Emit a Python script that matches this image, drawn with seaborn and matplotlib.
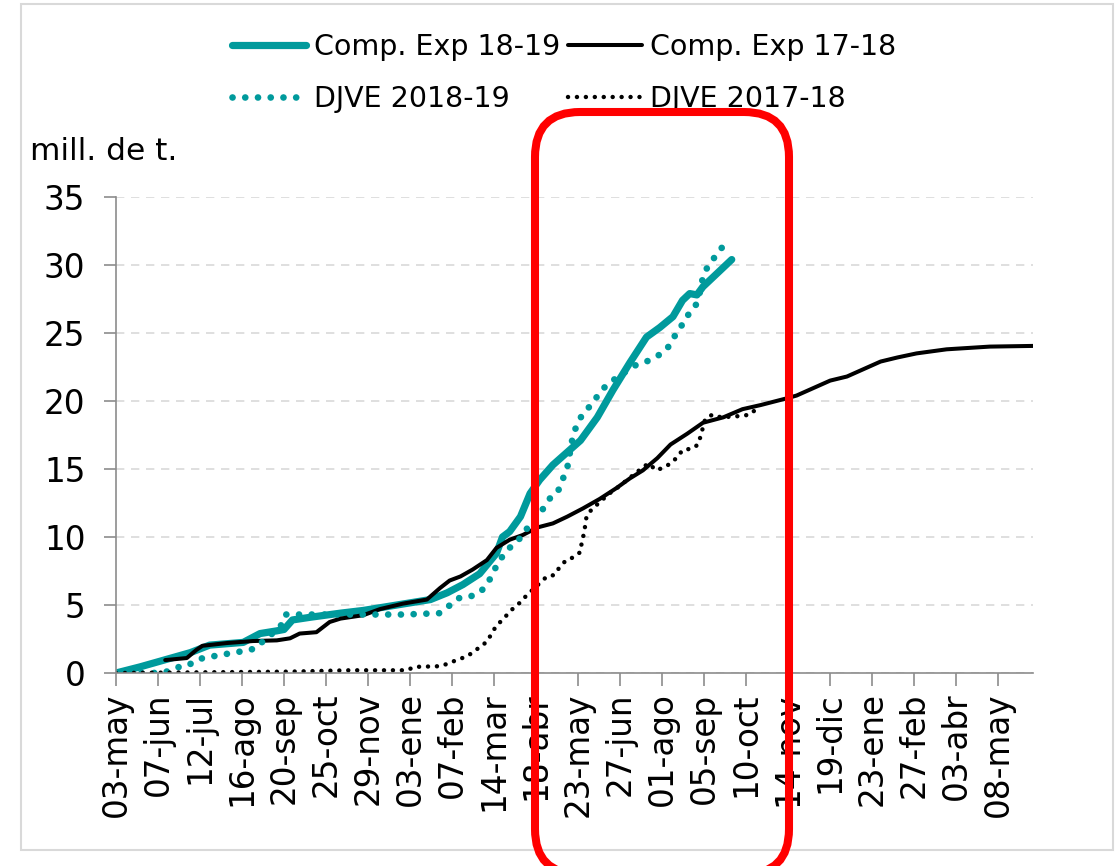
import numpy as np
import pandas as pd
import matplotlib
matplotlib.use("Agg")
import matplotlib.pyplot as plt
import seaborn as sns
from matplotlib.patches import FancyBboxPatch, Rectangle

# x = days counted from 03-may (start of the axis), y = million tonnes
comp_1819_day = [0, 20, 42, 62, 78, 106, 120, 134, 140, 147, 162, 187, 206, 234, 262, 276,
                 289, 303, 317, 322, 328, 337, 345, 353, 364, 387, 401, 414, 428, 442, 453,
                 464, 472, 478, 484, 489, 501, 513]
comp_1819_val = [0.0, 0.45, 1.0, 1.5, 2.05, 2.25, 2.9, 3.1, 3.2, 3.9, 4.1, 4.4, 4.6, 5.0, 5.4, 5.9,
                 6.5, 7.3, 8.8, 10.0, 10.4, 11.5, 13.2, 14.2, 15.3, 17.1, 18.8, 20.8, 22.8, 24.7, 25.4,
                 26.2, 27.4, 27.9, 27.8, 28.4, 29.4, 30.4]

comp_1718_day = [41, 59, 67, 72, 92, 114, 134, 145, 153, 167, 178, 187, 206, 220, 239, 259, 270,
                 278, 287, 297, 309, 317, 328, 339, 351, 364, 376, 389, 403, 417, 428, 439, 451,
                 462, 476, 489, 506, 522, 537, 559, 567, 595, 609, 637, 651, 667, 692, 728, 764]
comp_1718_val = [0.95, 1.1, 1.7, 2.0, 2.2, 2.35, 2.4, 2.55, 2.9, 3.0, 3.75, 4.0, 4.25, 4.7, 5.1, 5.4, 6.25,
                 6.8, 7.1, 7.6, 8.3, 9.2, 9.8, 10.15, 10.7, 11.0, 11.5, 12.1, 12.8, 13.6, 14.3, 14.9, 15.8,
                 16.8, 17.6, 18.4, 18.8, 19.4, 19.7, 20.2, 20.4, 21.5, 21.8, 22.9, 23.2, 23.5, 23.8, 24.0, 24.05]

djve_1819_day = [0, 31, 41, 49, 59, 68, 78, 87, 97, 106, 116, 122, 137, 141, 151, 200, 240, 270,
                 277, 285, 293, 303, 309, 314, 318, 324, 331, 338, 343, 351, 356, 362, 368, 372,
                 376, 381, 385, 389, 397, 402, 409, 417, 432, 442, 451, 459, 464, 470, 474, 481,
                 485, 489, 493, 499, 505]
djve_1819_val = [0.0, 0.0, 0.05, 0.4, 0.5, 1.0, 1.2, 1.3, 1.5, 1.6, 1.8, 2.3, 3.4, 4.3, 4.3, 4.3, 4.3, 4.4,
                 4.9, 5.5, 5.55, 5.9, 6.5, 7.3, 8.1, 8.8, 9.5, 10.0, 10.7, 11.4, 12.1, 12.9, 13.3, 14.2,
                 15.1, 17.6, 18.4, 19.1, 19.8, 20.5, 21.2, 21.7, 22.6, 22.9, 23.3, 23.8, 24.6, 25.3, 26.1, 26.7,
                 27.4, 29.1, 29.9, 30.6, 31.3]

djve_1718_day = [0, 145, 195, 242, 249, 270, 277, 285, 292, 297, 303, 309, 313, 317, 322, 327, 332,
                 337, 342, 353, 359, 365, 369, 375, 381, 387, 388, 390, 391, 392, 396, 411, 416,
                 433, 440, 444, 450, 456, 462, 468, 472, 480, 485, 487, 491, 497, 504, 521, 528, 532]
djve_1718_val = [0.0, 0.1, 0.2, 0.2, 0.45, 0.5, 0.7, 1.0, 1.2, 1.5, 1.9, 2.3, 2.9, 3.5, 3.9, 4.4, 4.85,
                 5.2, 5.7, 6.6, 7.1, 7.2, 7.7, 8.3, 8.5, 8.9, 9.6, 10.3, 10.9, 11.5, 12.0, 13.2, 13.5,
                 14.7, 15.2, 15.4, 14.9, 15.1, 15.4, 15.9, 16.4, 16.5, 16.8, 17.4, 18.7, 19.0, 18.8, 18.9, 19.0, 19.3]

tick_labels = ["03-may", "07-jun", "12-jul", "16-ago", "20-sep", "25-oct", "29-nov", "03-ene",
               "07-feb", "14-mar", "18-abr", "23-may", "27-jun", "01-ago", "05-sep", "10-oct",
               "14-nov", "19-dic", "23-ene", "27-feb", "03-abr", "08-may"]
tick_step = 35
x_end = 764

TEAL = "#009a9c"

sns.set_theme(style="white")
plt.rcParams["font.family"] = ["DejaVu Sans"]
plt.rcParams["text.color"] = "black"
plt.rcParams["xtick.labelcolor"] = "black"
plt.rcParams["ytick.labelcolor"] = "black"

fig = plt.figure(figsize=(11.17, 8.66), dpi=100)
ax = fig.add_axes([116 / 1117, 1 - 673 / 866, (1033 - 116) / 1117, (673 - 197) / 866])

sns.lineplot(x=comp_1819_day, y=comp_1819_val, ax=ax, color=TEAL, lw=5.2,
             estimator=None, sort=False, label="Comp. Exp 18-19", solid_capstyle="round")
sns.lineplot(x=comp_1718_day, y=comp_1718_val, ax=ax, color="black", lw=2.9,
             estimator=None, sort=False, label="Comp. Exp 17-18", solid_capstyle="round")
sns.lineplot(x=djve_1819_day, y=djve_1819_val, ax=ax, color=TEAL, lw=4.8,
             linestyle=(0, (0.01, 1.9)), dash_capstyle="round",
             estimator=None, sort=False, label="DJVE 2018-19")
sns.lineplot(x=djve_1718_day, y=djve_1718_val, ax=ax, color="black", lw=3.2,
             linestyle=(0, (0.01, 2.0)), dash_capstyle="round",
             estimator=None, sort=False, label="DJVE 2017-18")

ax.set_xlim(0, x_end)
ax.set_ylim(0, 35)
ax.set_xticks(np.arange(len(tick_labels)) * tick_step)
ax.set_xticklabels(tick_labels, rotation=90, fontsize=23.5, color="black")
ax.set_yticks(np.arange(0, 36, 5))
ax.tick_params(axis="y", labelsize=23.5, length=9, width=1.2, color="#8c8c8c", direction="out",
               left=True, pad=13, labelcolor="black")
ax.tick_params(axis="x", length=9, width=1.2, color="#8c8c8c", direction="out", bottom=True, pad=5,
               labelcolor="black")
ax.set_xlabel("")
ax.set_ylabel("")
ax.yaxis.grid(True, linestyle=(0, (5, 4)), color="#d9d9d9", lw=1.2)
ax.set_axisbelow(True)
for side in ["top", "right"]:
    ax.spines[side].set_visible(False)
for side in ["left", "bottom"]:
    ax.spines[side].set_color("#8c8c8c")
    ax.spines[side].set_linewidth(1.2)

handles, labels = ax.get_legend_handles_labels()
ax.legend_.remove()
order = [0, 2, 1, 3]
fig.legend([handles[i] for i in order], [labels[i] for i in order], ncol=2,
           loc="upper center", bbox_to_anchor=(0.505, 0.992), frameon=False,
           fontsize=20.5, handlelength=2.6, handletextpad=0.25, columnspacing=0.3,
           labelspacing=0.85, labelcolor="black")

fig.text(30 / 1117, 1 - 152 / 866, "mill. de t.", fontsize=22.5, va="center", ha="left", color="black")

# outer chart frame
fig.patches.append(Rectangle((0.21, 0.16), 10.92, 8.46, transform=fig.dpi_scale_trans,
                             fill=False, edgecolor="#d9d9d9", lw=1.5))
# red highlight box
fig.patches.append(FancyBboxPatch((5.35, -0.08), 2.54, 7.62, transform=fig.dpi_scale_trans,
                                  boxstyle="round,pad=0,rounding_size=0.45",
                                  fill=False, edgecolor="#ff0000", lw=5.8, zorder=10))

fig.savefig("out.png", dpi=100)
